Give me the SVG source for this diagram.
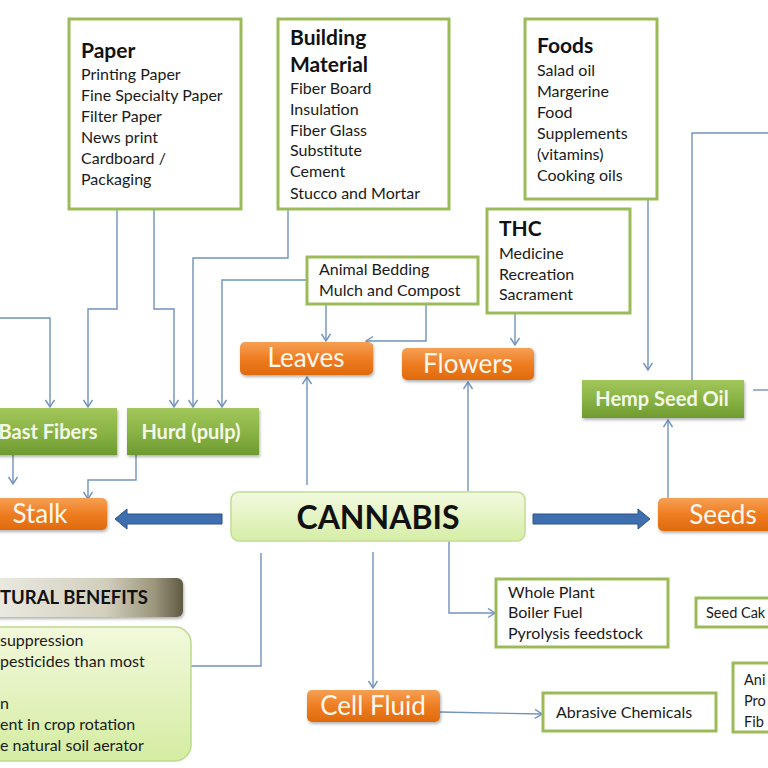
<svg xmlns="http://www.w3.org/2000/svg" width="768" height="768" viewBox="0 0 768 768">
<defs>
<style>
.box{fill:#ffffff;stroke:#9BBB59;stroke-width:3}
.t{font-family:Lato,"Liberation Sans",sans-serif;font-size:16px;fill:#1a1a1a}
.h{font-family:Lato,"Liberation Sans",sans-serif;font-size:21px;font-weight:bold;fill:#111}
.or{fill:url(#gOr)}
.gr{fill:url(#gGr)}
.ot{font-family:Lato,"Liberation Sans",sans-serif;font-size:26px;fill:#fff8ef;text-anchor:middle}
.gt{font-family:Lato,"Liberation Sans",sans-serif;font-size:20px;font-weight:bold;fill:#f4f9ea;text-anchor:middle}
.c{fill:none;stroke:#7092be;stroke-width:1.4}
.ca{fill:none;stroke:#7092be;stroke-width:1.4;marker-end:url(#ah)}
.big{fill:#3f6fae;stroke:#2c5288;stroke-width:1}
.bt{font-family:Lato,"Liberation Sans",sans-serif;font-size:16px;fill:#1a1a1a}
.edge{font-family:Lato,"Liberation Sans",sans-serif;font-size:14.5px;fill:#1a1a1a}
</style>
<linearGradient id="gOr" x1="0" y1="0" x2="0" y2="1">
<stop offset="0" stop-color="#F6A054"/><stop offset="0.5" stop-color="#EE7D22"/><stop offset="1" stop-color="#E06A0C"/>
</linearGradient>
<linearGradient id="gGr" x1="0" y1="0" x2="0" y2="1">
<stop offset="0" stop-color="#A2C65C"/><stop offset="0.5" stop-color="#8AB445"/><stop offset="1" stop-color="#6E9A30"/>
</linearGradient>
<linearGradient id="gCan" x1="0" y1="0" x2="0" y2="1">
<stop offset="0" stop-color="#F3FAE0"/><stop offset="1" stop-color="#D6EDA6"/>
</linearGradient>
<linearGradient id="gHead" x1="0" y1="0" x2="1" y2="0">
<stop offset="0" stop-color="#ecebe3"/><stop offset="0.6" stop-color="#d2cfbd"/><stop offset="0.85" stop-color="#9c967c"/><stop offset="1" stop-color="#5f5944"/>
</linearGradient>
<linearGradient id="gBen" x1="0" y1="0" x2="0" y2="1">
<stop offset="0" stop-color="#F2F9DC"/><stop offset="1" stop-color="#D5ECA2"/>
</linearGradient>
<filter id="sh" x="-10%" y="-20%" width="120%" height="150%">
<feDropShadow dx="1" dy="2" stdDeviation="1.5" flood-color="#000" flood-opacity="0.3"/>
</filter>
<marker id="ah" markerUnits="userSpaceOnUse" markerWidth="14" markerHeight="14" refX="8" refY="5" orient="auto">
<path d="M1,0.5 L8,5 L1,9.5" fill="none" stroke="#7092be" stroke-width="1.4"/>
</marker>
</defs>
<rect width="768" height="768" fill="#ffffff"/>

<g id="connectors">
<polyline class="ca" points="0,318 50,318 50,407"/>
<polyline class="ca" points="117,209 117,309 88,309 88,407"/>
<polyline class="ca" points="154,209 154,309 174,309 174,407"/>
<polyline class="ca" points="288,209 288,258 193,258 193,407"/>
<polyline class="ca" points="307,280 222,280 222,407"/>
<polyline class="ca" points="13,455 13,484"/>
<polyline class="ca" points="136,455 136,480 88,480 88,499"/>
<polyline class="ca" points="326,304 326,341"/>
<polyline class="ca" points="426,304 426,341 366,341"/>
<polyline class="ca" points="515,313 515,345"/>
<polyline class="ca" points="307,485 307,377"/>
<polyline class="ca" points="468,491 468,382"/>
<polyline class="ca" points="648,199 648,370"/>
<polyline class="c" points="692,380 692,133 768,133"/>
<polyline class="c" points="753,390 768,390"/>
<polyline class="ca" points="668,498 668,420"/>
<polyline class="ca" points="373,552 373,688"/>
<polyline class="ca" points="449,541 449,613 495,613"/>
<polyline class="ca" points="261,553 261,666 157,666"/>
<polyline class="ca" points="440,712 542,714"/>
<polygon class="big" points="222,514 127,514 127,509 115,519 127,529 127,524 222,524"/>
<polygon class="big" points="533,514 638,514 638,509 650,519 638,529 638,524 533,524"/>
</g>

<g id="paper">
<rect class="box" x="69" y="19" width="172" height="190"/>
<text class="h" x="81" y="58">Paper</text>
<text class="t" x="81" y="80">Printing Paper</text>
<text class="t" x="81" y="101">Fine Specialty Paper</text>
<text class="t" x="81" y="122">Filter Paper</text>
<text class="t" x="81" y="143">News print</text>
<text class="t" x="81" y="164">Cardboard /</text>
<text class="t" x="81" y="185">Packaging</text>
</g>

<g id="building">
<rect class="box" x="278" y="19" width="171" height="190"/>
<text class="h" x="290" y="45">Building</text>
<text class="h" x="290" y="72">Material</text>
<text class="t" x="290" y="94">Fiber Board</text>
<text class="t" x="290" y="115">Insulation</text>
<text class="t" x="290" y="136">Fiber Glass</text>
<text class="t" x="290" y="156">Substitute</text>
<text class="t" x="290" y="177">Cement</text>
<text class="t" x="290" y="199">Stucco and Mortar</text>
</g>

<g id="foods">
<rect class="box" x="525" y="19" width="132" height="180"/>
<text class="h" x="537" y="53">Foods</text>
<text class="t" x="537" y="76">Salad oil</text>
<text class="t" x="537" y="97">Margerine</text>
<text class="t" x="537" y="118">Food</text>
<text class="t" x="537" y="139">Supplements</text>
<text class="t" x="537" y="160">(vitamins)</text>
<text class="t" x="537" y="181">Cooking oils</text>
</g>

<g id="thc">
<rect class="box" x="487" y="209" width="143" height="104"/>
<text class="h" x="499" y="236">THC</text>
<text class="t" x="499" y="259">Medicine</text>
<text class="t" x="499" y="280">Recreation</text>
<text class="t" x="499" y="300">Sacrament</text>
</g>

<g id="bedding">
<rect class="box" x="307" y="257" width="171" height="47"/>
<text class="t" x="319" y="275">Animal Bedding</text>
<text class="t" x="319" y="296">Mulch and Compost</text>
</g>

<g id="leaves">
<rect class="or" filter="url(#sh)" x="240" y="342" width="133" height="33" rx="5"/>
<text class="ot" x="306" y="367">Leaves</text>
</g>

<g id="flowers">
<rect class="or" filter="url(#sh)" x="402" y="348" width="132" height="32" rx="5"/>
<text class="ot" x="468" y="373">Flowers</text>
</g>

<g id="bast">
<rect class="gr" filter="url(#sh)" x="-10" y="408" width="127" height="47"/>
<text class="gt" x="48" y="439">Bast Fibers</text>
</g>

<g id="hurd">
<rect class="gr" filter="url(#sh)" x="127" y="408" width="132" height="47"/>
<text class="gt" x="191" y="439">Hurd (pulp)</text>
</g>

<g id="hempseedoil">
<rect class="gr" filter="url(#sh)" x="582" y="380" width="162" height="38"/>
<text class="gt" x="662" y="406">Hemp Seed Oil</text>
</g>

<g id="stalk">
<rect class="or" filter="url(#sh)" x="-10" y="498" width="117" height="32" rx="5"/>
<text class="ot" x="40" y="523">Stalk</text>
</g>

<g id="seeds">
<rect class="or" filter="url(#sh)" x="658" y="498" width="120" height="33" rx="5"/>
<text class="ot" x="723" y="524">Seeds</text>
</g>

<g id="cannabis">
<rect x="231" y="492" width="294" height="49" rx="8" fill="url(#gCan)" stroke="#c2dc96" stroke-width="1.5"/>
<text x="378" y="529" text-anchor="middle" font-family="Lato,'Liberation Sans',sans-serif" font-size="32" font-weight="bold" fill="#111">CANNABIS</text>
</g>

<g id="cellfluid">
<rect class="or" filter="url(#sh)" x="307" y="690" width="133" height="32" rx="5"/>
<text class="ot" x="373" y="715">Cell Fluid</text>
</g>

<g id="wholeplant">
<rect class="box" x="496" y="579" width="172" height="68"/>
<text class="t" x="508" y="598">Whole Plant</text>
<text class="t" x="508" y="618">Boiler Fuel</text>
<text class="t" x="508" y="639">Pyrolysis feedstock</text>
</g>

<g id="abrasive">
<rect class="box" x="543" y="693" width="173" height="38"/>
<text class="t" x="556" y="718">Abrasive Chemicals</text>
</g>

<g id="seedcake">
<rect class="box" x="696" y="598" width="80" height="29"/>
<text class="edge" x="706" y="618">Seed Cak</text>
</g>

<g id="animal">
<rect class="box" x="733" y="663" width="45" height="69"/>
<text class="edge" x="744" y="685">Ani</text>
<text class="edge" x="744" y="706">Pro</text>
<text class="edge" x="744" y="727">Fib</text>
</g>

<g id="benefits-header">
<rect x="-10" y="578" width="193" height="39" rx="6" fill="url(#gHead)" filter="url(#sh)"/>
<text x="0" y="604" font-family="Lato,'Liberation Sans',sans-serif" font-size="18.5" font-weight="bold" fill="#111">TURAL BENEFITS</text>
</g>

<g id="benefits">
<rect x="-15" y="627" width="206" height="134" rx="16" fill="url(#gBen)" stroke="#bcd98e" stroke-width="1.5"/>
<text class="bt" x="0" y="646">suppression</text>
<text class="bt" x="0" y="667">pesticides than most</text>
<text class="bt" x="0" y="709">n</text>
<text class="bt" x="0" y="730">ent in crop rotation</text>
<text class="bt" x="0" y="751">e natural soil aerator</text>
</g>
</svg>
